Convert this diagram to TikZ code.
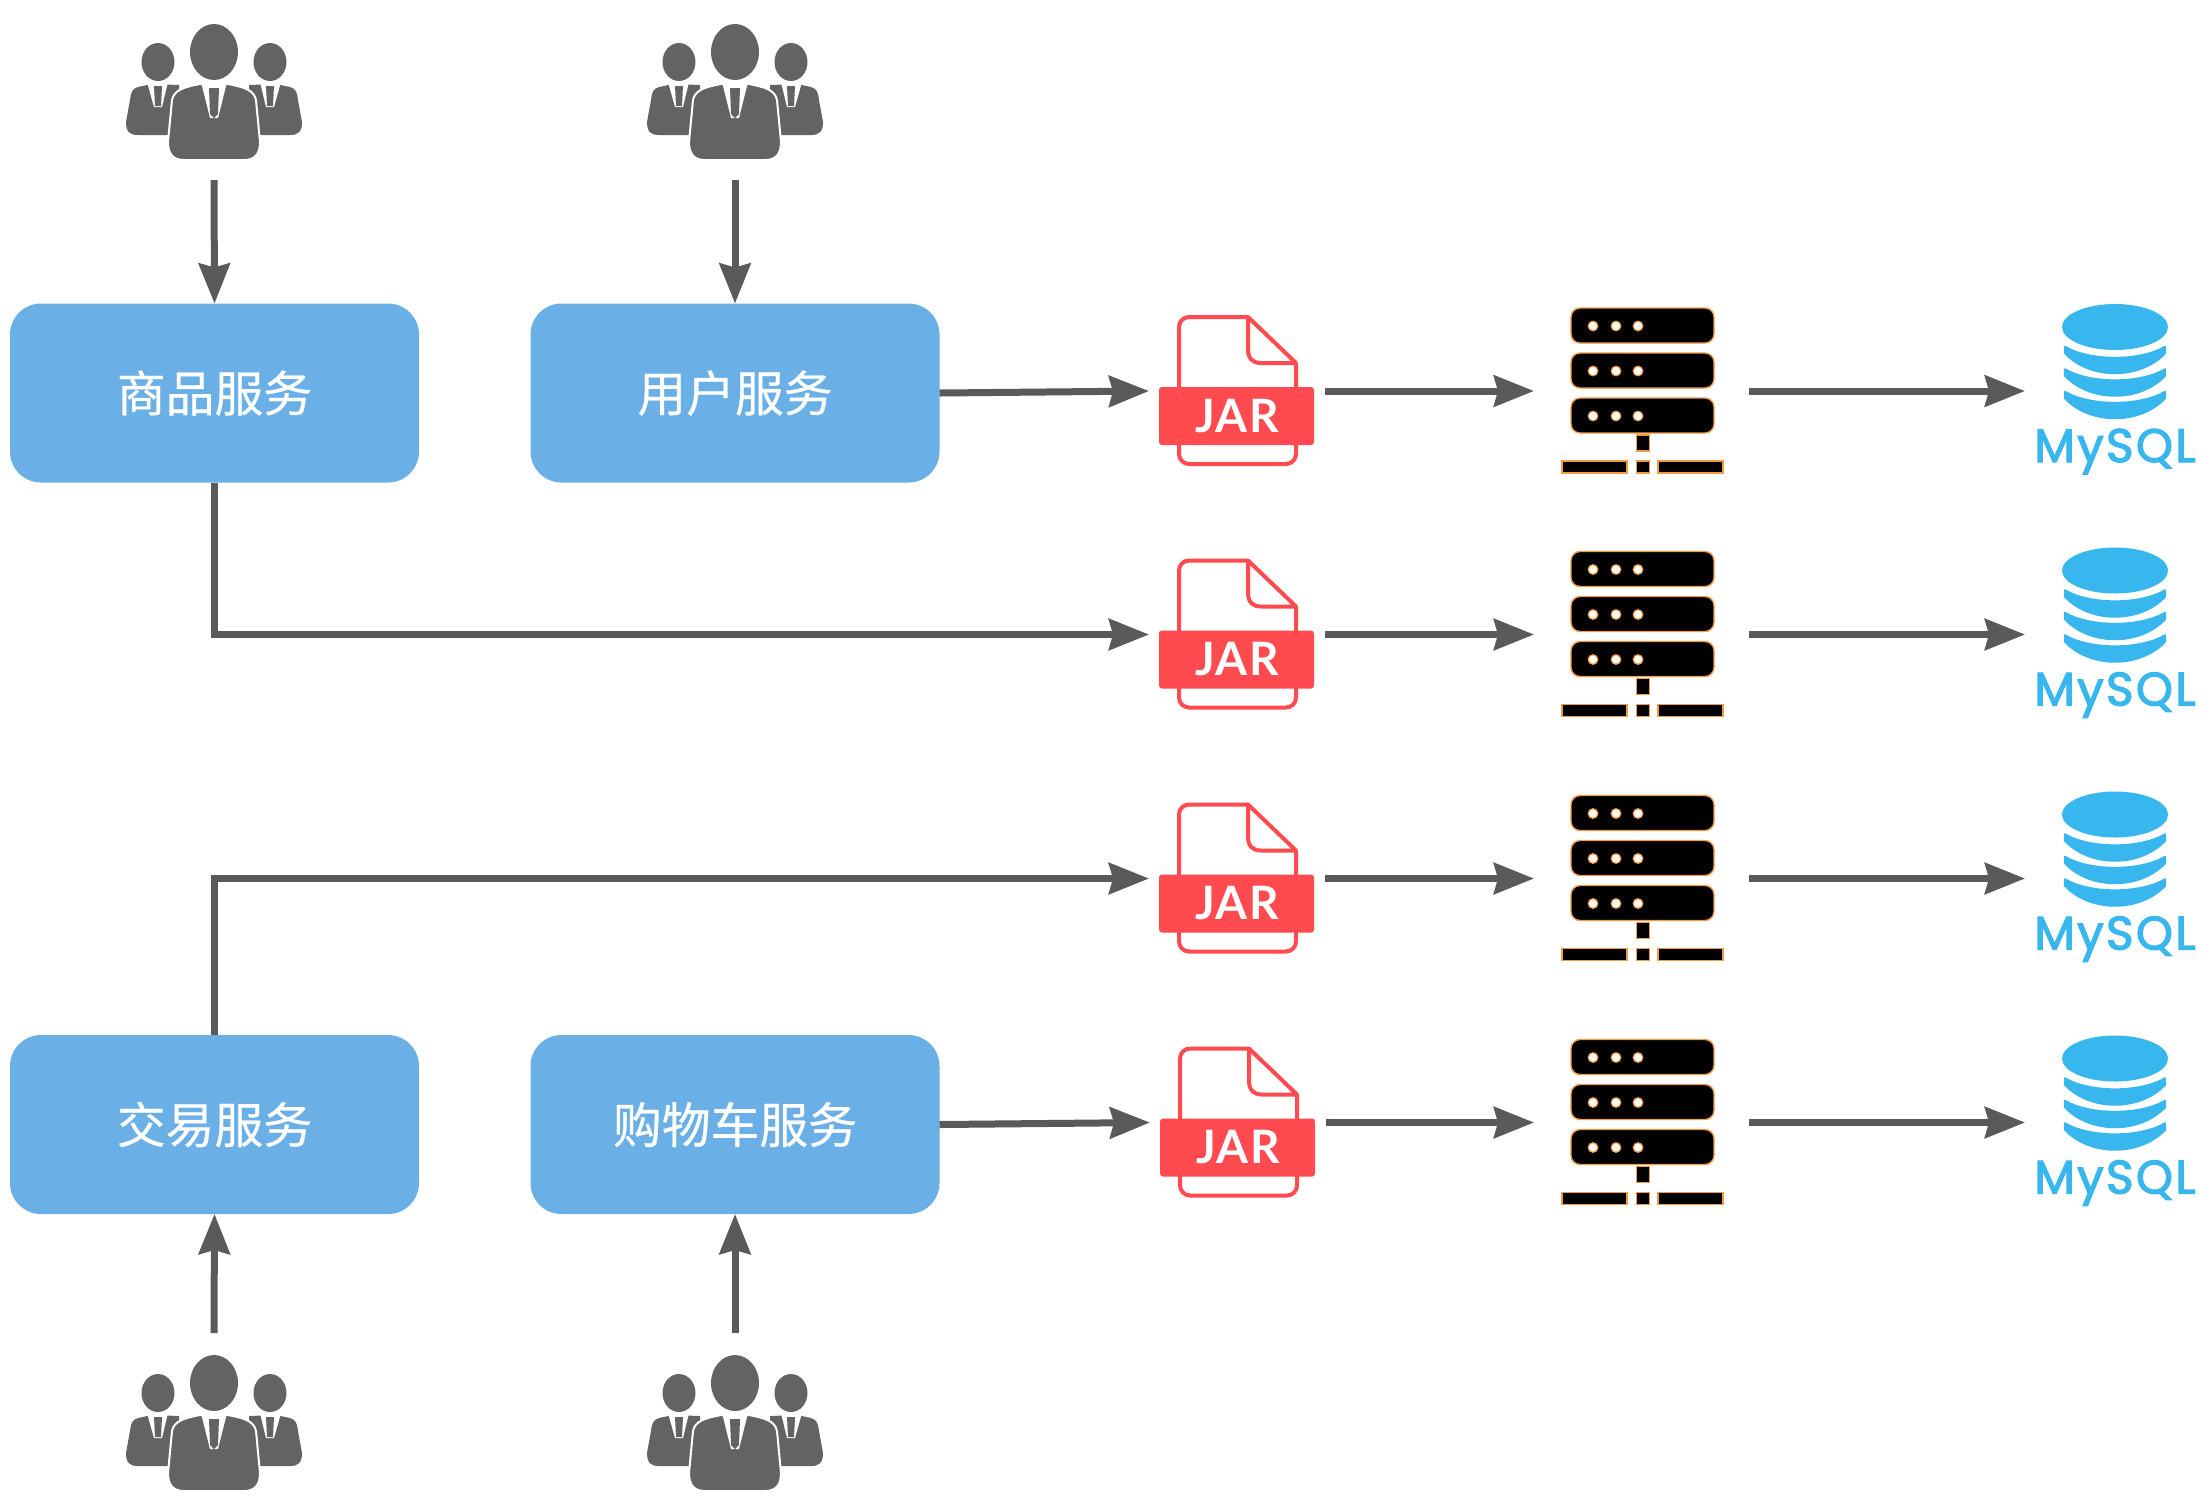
\documentclass[tikz,border=0pt]{standalone}
\usepackage{fontspec}
\usetikzlibrary{arrows.meta}
\newfontfamily\cjkfont{Noto Sans CJK SC}[FakeBold=0.5]
\newfontfamily\jarfont{Lato}[LetterSpace=3]
\newfontfamily\myfont{Poppins}[FakeBold=2.6,LetterSpace=5]
\definecolor{boxblue}{HTML}{6AAFE6}
\definecolor{iconGray}{HTML}{636363}
\definecolor{lineGray}{HTML}{5A5A5A}
\definecolor{jarRed}{HTML}{FF4B50}
\definecolor{sqlBlue}{HTML}{38B6EE}
\definecolor{srvOrange}{HTML}{F39A45}
\tikzset{
  svcbox/.style={fill=boxblue,rounded corners=15.5pt,minimum width=204.5pt,minimum height=89.5pt,inner sep=0pt,outer sep=0pt,text=white,font=\cjkfont\fontsize{24.4}{28}\selectfont},
  iconbox/.style={inner sep=0pt,outer sep=0pt},
  conn/.style={draw=lineGray,line width=3.5pt,-{Stealth[length=20pt,width=15.5pt,inset=2pt]}},
  personicon/.pic={
    \foreach \s in {-1,1}{
      \begin{scope}[xscale=\s]
        \fill[iconGray] (56,62) ellipse [x radius=16.5,y radius=19];
        \fill[iconGray] (62,84) -- (76,87) .. controls (82,89) and (83,92) .. (84,100) -- (88,122) .. controls (88,132) and (84,135) .. (76,135) -- (35,135) -- (35,85) -- cycle;
        \fill[white] (46,82) -- (67,82) -- (60,107) -- (52,107) -- cycle;
        \fill[iconGray] (52,86) -- (60,86) -- (59,106) -- (53,106) -- cycle;
      \end{scope}
    }
    \fill[iconGray] (0,52) ellipse [x radius=24,y radius=28];
    \filldraw[iconGray,draw=white,line width=1pt] (-14,84) .. controls (-30,87) and (-40,90) .. (-42,100) -- (-46,142) .. controls (-46,155) and (-40,160) .. (-30,160) -- (30,160) .. controls (40,160) and (46,155) .. (46,142) -- (42,100) .. controls (40,90) and (30,87) .. (14,84) -- cycle;
    \fill[white] (-13,82) -- (13,82) -- (4,118) -- (-4,118) -- cycle;
    \fill[iconGray] (-5,88) -- (5,88) -- (4,114) -- (0,118) -- (-4,114) -- cycle;
  },
  jaricon/.pic={
    \filldraw[fill=white,draw=jarRed,line width=2pt,line join=round,rounded corners=5pt] (59,-28) -- (59,73) -- (-58,73) -- (-58,-74) -- (11,-74);
    \draw[jarRed,line width=2pt,line join=round] (11,-74) -- (59,-28) -- (24,-28) .. controls (15,-28) and (11,-33) .. (11,-42) -- cycle;
    \fill[jarRed,rounded corners=1.5pt] (-78,-4) rectangle (77,54);
    \node[anchor=base,text=white,font=\jarfont\bfseries\fontsize{23}{26}\selectfont,iconbox] at (0,41) {JAR};
  },
  servericon/.pic={
    \tikzset{srv/.style={fill=black,draw=srvOrange,line width=.7pt}}
    \foreach \t in {-83,-38,7}{
      \filldraw[srv,rounded corners=4.5pt] (-72,\t) rectangle (71,{\t+35});
      \foreach \d in {-50,-27,-5}{
        \filldraw[fill=white,draw=srvOrange,line width=.6pt] (\d,{\t+18}) circle [radius=4.8];
      }
    }
    \filldraw[srv] (-6.5,44) rectangle (6.5,60);
    \filldraw[srv] (-81,70) rectangle (-16,82);
    \filldraw[srv] (-6.5,70) rectangle (6.5,82);
    \filldraw[srv] (15,70) rectangle (80,82);
  },
  sqlicon/.pic={
    \fill[sqlBlue] (0,-64) ellipse [x radius=53,y radius=23];
    \foreach \d in {0,22.5,45}{
      \filldraw[fill=sqlBlue,draw=sqlBlue,line width=1.2pt,line join=round]
        (-50,{-44+\d}) .. controls (-25,{-29.3+\d}) and (25,{-29.3+\d}) .. (50,{-44+\d})
        -- (50,{-38+\d}) .. controls (25,{-11.3+\d}) and (-25,{-11.3+\d}) .. (-50,{-38+\d}) -- cycle;
    }
    \node[anchor=base,inner sep=0pt,text=sqlBlue,font=\myfont\fontsize{23.5}{28}\selectfont] at (0,71) {MySQL};
  }
}
\begin{document}
\begin{tikzpicture}[x=0.5pt,y=-0.5pt]
\useasboundingbox (0,0) rectangle (2210,1496);
\fill[white] (0,0) rectangle (2210,1496);
% services
\node[svcbox] (s1) at (214.5,393) {商品服务};
\node[svcbox] (s2) at (735,393) {用户服务};
\node[svcbox] (s3) at (214.5,1124.5) {交易服务};
\node[svcbox] (s4) at (735,1124.5) {购物车服务};
% people
\node[iconbox,minimum width=90pt,minimum height=90pt] (p1) at (214,90) {};
\node[iconbox,minimum width=90pt,minimum height=90pt] (p2) at (735,90) {};
\node[iconbox,minimum width=90pt,minimum height=81.5pt] (p3) at (214,1414.5) {};
\node[iconbox,minimum width=90pt,minimum height=81.5pt] (p4) at (735,1414.5) {};
\pic at (214,0) {personicon};
\pic at (735,0) {personicon};
\pic at (214,1331) {personicon};
\pic at (735,1331) {personicon};
% rows
\foreach \i/\y/\jx in {1/391/1237,2/634.5/1237,3/878.5/1237,4/1122.5/1238}{
  \node[iconbox,minimum width=88pt,minimum height=74pt] (jar\i) at (\jx,\y) {};
  \node[iconbox,minimum width=107.5pt,minimum height=60pt] (srv\i) at (1641.5,\y) {};
  \node[iconbox,minimum width=91pt,minimum height=60pt] (db\i) at (2116,\y) {};
  \pic at (jar\i) {jaricon};
  \pic at (1643,\y) {servericon};
  \pic at (2115,\y) {sqlicon};
  \draw[conn] (jar\i.east) -- (srv\i.west);
  \draw[conn] (srv\i.east) -- (db\i.west);
}
% connectors
\draw[conn] (p1.south) -- (s1.north);
\draw[conn] (p2.south) -- (s2.north);
\draw[conn] (p3.north) -- (s3.south);
\draw[conn] (p4.north) -- (s4.south);
\draw[conn] (s2.east) -- (jar1.west);
\draw[conn] (s4.east) -- (jar4.west);
\draw[conn,line join=miter] (s1.south) |- (jar2.west);
\draw[conn,line join=miter] (s3.north) |- (jar3.west);
\end{tikzpicture}
\end{document}
